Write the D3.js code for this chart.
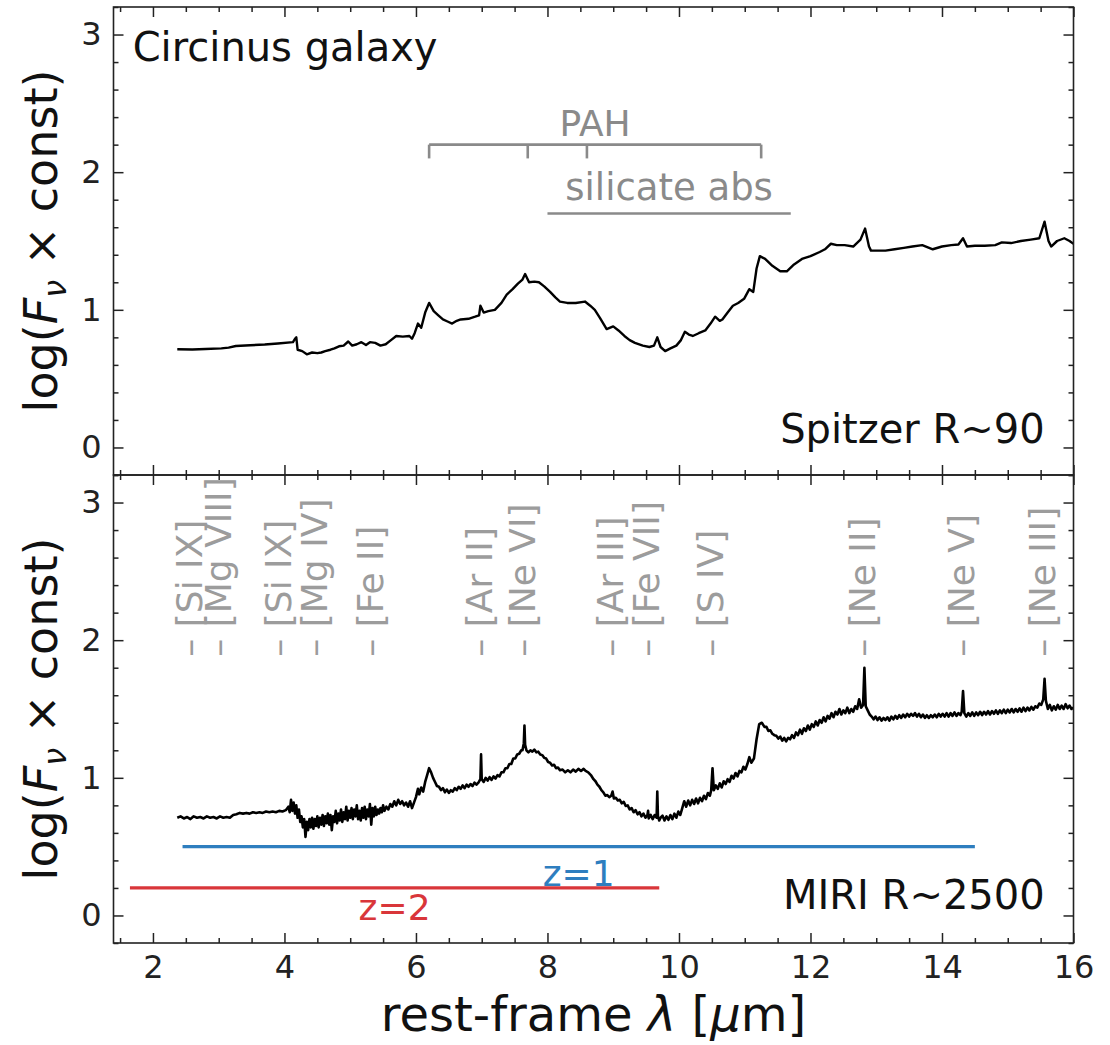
<!DOCTYPE html>
<html>
<head>
<meta charset="utf-8">
<script src="https://cdn.jsdelivr.net/npm/d3@7"></script>
<style>
  html, body { margin: 0; padding: 0; background: #fff; }
  svg { display: block; font-family: "DejaVu Sans", sans-serif; }
</style>
</head>
<body>
<svg id="chart" width="1110" height="1045"></svg>
<script>
// ---------------- data ----------------
// Spitzer low-resolution spectrum [wavelength (µm), log(Fnu x const)]
const spitzer = [
  [2.37,0.714],[2.6,0.712],[2.8,0.715],[3.04,0.72],[3.15,0.725],[3.26,0.737],[3.48,0.743],[3.7,0.748],
  [3.9,0.755],[4.13,0.765],[4.16,0.79],[4.18,0.80],[4.2,0.71],[4.27,0.70],[4.34,0.677],[4.42,0.69],
  [4.5,0.685],[4.56,0.69],[4.62,0.70],[4.7,0.71],[4.76,0.72],[4.83,0.735],[4.9,0.74],[4.97,0.77],
  [5.03,0.74],[5.1,0.75],[5.17,0.765],[5.24,0.745],[5.3,0.765],[5.38,0.76],[5.46,0.74],[5.54,0.75],
  [5.62,0.78],[5.7,0.81],[5.8,0.805],[5.9,0.81],[5.94,0.79],[5.98,0.83],[6.03,0.9],[6.08,0.87],
  [6.14,0.98],[6.2,1.05],[6.27,0.99],[6.34,0.96],[6.41,0.93],[6.48,0.915],[6.55,0.9],[6.62,0.92],
  [6.68,0.93],[6.8,0.935],[6.9,0.95],[6.96,0.96],[6.98,1.03],[7.03,0.98],[7.1,0.99],[7.2,1.0],
  [7.3,1.05],[7.38,1.11],[7.47,1.15],[7.55,1.19],[7.62,1.22],[7.66,1.26],[7.72,1.2],[7.8,1.205],
  [7.87,1.2],[7.95,1.17],[8.04,1.13],[8.12,1.09],[8.19,1.06],[8.3,1.05],[8.43,1.05],[8.57,1.06],
  [8.65,1.03],[8.72,1.0],[8.8,0.94],[8.9,0.86],[9.0,0.88],[9.08,0.85],[9.17,0.81],[9.25,0.78],
  [9.33,0.76],[9.45,0.74],[9.55,0.73],[9.62,0.74],[9.67,0.80],[9.72,0.73],[9.79,0.70],[9.87,0.72],
  [9.96,0.74],[10.03,0.78],[10.09,0.84],[10.15,0.82],[10.21,0.81],[10.3,0.83],[10.4,0.85],[10.48,0.9],
  [10.55,0.95],[10.62,0.92],[10.66,0.93],[10.74,0.98],[10.82,1.03],[10.9,1.05],[10.99,1.08],[11.07,1.15],
  [11.13,1.13],[11.18,1.3],[11.23,1.39],[11.31,1.37],[11.42,1.32],[11.54,1.28],[11.64,1.28],[11.75,1.33],
  [11.87,1.37],[12.0,1.39],[12.14,1.42],[12.22,1.44],[12.31,1.48],[12.4,1.47],[12.52,1.47],[12.65,1.46],
  [12.76,1.51],[12.83,1.59],[12.89,1.46],[12.92,1.43],[13.03,1.43],[13.14,1.43],[13.28,1.44],[13.42,1.45],
  [13.55,1.46],[13.7,1.47],[13.86,1.44],[14.0,1.46],[14.14,1.47],[14.25,1.475],[14.32,1.52],[14.38,1.46],
  [14.5,1.465],[14.65,1.465],[14.81,1.47],[14.91,1.49],[15.05,1.485],[15.2,1.5],[15.35,1.51],[15.48,1.52],
  [15.56,1.64],[15.62,1.5],[15.66,1.46],[15.75,1.5],[15.86,1.52],[15.94,1.50],[16.0,1.48]
];

// MIRI high-resolution spectrum [wavelength (µm), log(Fnu x const)]
const miri = [
  [2.37,0.71],[2.42,0.72],[2.47,0.705],[2.52,0.715],[2.57,0.70],[2.62,0.72],[2.67,0.71],[2.72,0.715],
  [2.77,0.705],[2.82,0.72],[2.87,0.71],[2.92,0.715],[2.97,0.705],[3.02,0.72],[3.07,0.71],[3.12,0.715],
  [3.17,0.71],[3.22,0.73],[3.27,0.735],[3.32,0.745],[3.37,0.74],[3.42,0.745],[3.47,0.74],[3.52,0.75],
  [3.57,0.745],[3.62,0.75],[3.67,0.745],[3.72,0.755],[3.77,0.75],[3.82,0.755],[3.87,0.75],[3.92,0.76],
  [3.97,0.755],[4.02,0.765],[4.06,0.79],[4.08,0.75],[4.1,0.84],[4.12,0.76],[4.14,0.82],[4.16,0.74],
  [4.18,0.80],[4.2,0.71],[4.22,0.77],[4.24,0.68],[4.26,0.72],[4.28,0.64],[4.3,0.70],[4.32,0.57],
  [4.34,0.68],[4.36,0.62],[4.38,0.70],[4.4,0.64],[4.42,0.71],[4.44,0.63],[4.46,0.70],[4.48,0.65],
  [4.5,0.72],[4.52,0.64],[4.54,0.71],[4.56,0.66],[4.58,0.73],[4.6,0.65],[4.62,0.72],[4.64,0.67],
  [4.66,0.74],[4.68,0.66],[4.7,0.73],[4.72,0.62],[4.74,0.72],[4.76,0.68],[4.78,0.76],[4.8,0.67],
  [4.82,0.74],[4.84,0.69],[4.86,0.77],[4.88,0.68],[4.9,0.75],[4.92,0.70],[4.94,0.79],[4.96,0.69],
  [4.98,0.76],[5.0,0.71],[5.02,0.78],[5.04,0.70],[5.06,0.77],[5.08,0.72],[5.1,0.80],[5.12,0.70],
  [5.14,0.76],[5.16,0.69],[5.18,0.78],[5.2,0.71],[5.22,0.79],[5.24,0.70],[5.26,0.77],[5.28,0.72],
  [5.3,0.81],[5.32,0.66],[5.34,0.78],[5.36,0.72],[5.38,0.79],[5.4,0.73],[5.42,0.77],[5.44,0.74],
  [5.46,0.78],[5.48,0.75],[5.5,0.80],[5.52,0.76],[5.55,0.79],[5.58,0.77],[5.61,0.81],[5.64,0.79],
  [5.67,0.83],[5.7,0.80],[5.73,0.84],[5.76,0.81],[5.79,0.83],[5.82,0.80],[5.85,0.82],[5.88,0.79],
  [5.91,0.83],[5.94,0.78],[5.97,0.82],[6.0,0.86],[6.03,0.92],[6.05,0.88],[6.08,0.93],[6.11,0.90],
  [6.14,0.97],[6.17,1.02],[6.2,1.07],[6.23,1.04],[6.26,1.0],[6.29,0.97],[6.32,0.94],[6.35,0.935],
  [6.38,0.91],[6.41,0.925],[6.44,0.895],[6.47,0.915],[6.5,0.89],[6.53,0.91],[6.56,0.9],[6.59,0.925],
  [6.62,0.91],[6.65,0.935],[6.68,0.92],[6.71,0.945],[6.74,0.925],[6.77,0.95],[6.8,0.935],[6.83,0.955],
  [6.86,0.94],[6.89,0.965],[6.92,0.95],[6.95,0.965],[6.98,0.99],[6.99,1.17],[7.0,0.99],[7.03,0.97],
  [7.06,1.0],[7.09,0.98],[7.12,1.005],[7.15,0.985],[7.18,1.01],[7.21,0.995],[7.24,1.02],[7.27,1.01],
  [7.3,1.04],[7.33,1.04],[7.36,1.07],[7.39,1.07],[7.42,1.1],[7.45,1.1],[7.48,1.14],[7.51,1.14],
  [7.54,1.17],[7.57,1.175],[7.6,1.2],[7.62,1.2],[7.64,1.25],[7.65,1.38],[7.66,1.24],[7.68,1.2],
  [7.71,1.185],[7.74,1.2],[7.77,1.19],[7.8,1.205],[7.83,1.185],[7.86,1.19],[7.89,1.17],[7.92,1.165],
  [7.95,1.145],[7.98,1.14],[8.01,1.115],[8.04,1.11],[8.07,1.09],[8.1,1.095],[8.13,1.07],[8.16,1.075],
  [8.19,1.055],[8.23,1.06],[8.27,1.04],[8.31,1.055],[8.35,1.04],[8.39,1.06],[8.43,1.045],[8.47,1.065],
  [8.51,1.05],[8.55,1.065],[8.58,1.05],[8.62,1.04],[8.66,1.02],[8.7,0.99],[8.73,0.975],[8.76,0.95],
  [8.79,0.935],[8.82,0.91],[8.85,0.895],[8.88,0.87],[8.91,0.875],[8.94,0.86],[8.97,0.87],[8.99,0.9],
  [9.01,0.85],[9.04,0.855],[9.07,0.835],[9.1,0.84],[9.13,0.815],[9.16,0.825],[9.19,0.795],[9.22,0.8],
  [9.25,0.77],[9.28,0.78],[9.31,0.75],[9.34,0.765],[9.37,0.735],[9.4,0.75],[9.43,0.72],[9.46,0.74],
  [9.49,0.71],[9.52,0.73],[9.53,0.76],[9.54,0.705],[9.57,0.73],[9.6,0.7],[9.63,0.73],[9.66,0.71],
  [9.67,0.90],[9.68,0.72],[9.7,0.69],[9.72,0.71],[9.75,0.725],[9.78,0.69],[9.81,0.72],[9.84,0.695],
  [9.87,0.73],[9.9,0.70],[9.93,0.74],[9.96,0.71],[9.99,0.755],[10.02,0.73],[10.05,0.78],[10.08,0.83],
  [10.11,0.79],[10.14,0.835],[10.17,0.80],[10.2,0.84],[10.23,0.81],[10.26,0.85],[10.29,0.815],[10.32,0.855],
  [10.35,0.83],[10.38,0.87],[10.41,0.845],[10.44,0.89],[10.47,0.87],[10.49,0.91],[10.51,1.07],[10.53,0.91],
  [10.56,0.945],[10.59,0.92],[10.62,0.96],[10.65,0.93],[10.68,0.975],[10.71,0.955],[10.74,0.99],[10.77,0.97],
  [10.8,1.015],[10.83,0.995],[10.86,1.035],[10.89,1.01],[10.92,1.05],[10.95,1.04],[10.98,1.08],[11.01,1.06],
  [11.04,1.1],[11.07,1.15],[11.1,1.11],[11.14,1.14],[11.18,1.28],[11.22,1.39],[11.26,1.40],[11.3,1.37],
  [11.33,1.37],[11.36,1.34],[11.39,1.345],[11.42,1.32],[11.45,1.31],[11.48,1.305],[11.51,1.285],[11.54,1.3],
  [11.57,1.27],[11.6,1.29],[11.63,1.265],[11.66,1.29],[11.69,1.28],[11.72,1.31],[11.75,1.29],[11.78,1.33],
  [11.81,1.31],[11.84,1.35],[11.87,1.32],[11.9,1.36],[11.93,1.34],[11.96,1.38],[11.99,1.35],[12.02,1.39],
  [12.05,1.37],[12.08,1.41],[12.11,1.38],[12.14,1.42],[12.17,1.40],[12.2,1.44],[12.23,1.41],[12.26,1.45],
  [12.29,1.43],[12.32,1.47],[12.35,1.44],[12.38,1.48],[12.41,1.46],[12.44,1.50],[12.47,1.46],[12.5,1.49],
  [12.53,1.47],[12.56,1.51],[12.59,1.47],[12.62,1.50],[12.65,1.48],[12.68,1.52],[12.71,1.50],[12.74,1.57],
  [12.77,1.51],[12.8,1.53],[12.82,1.80],[12.84,1.52],[12.87,1.49],[12.9,1.46],[12.93,1.445],[12.96,1.425],
  [12.99,1.445],[13.02,1.42],[13.05,1.44],[13.08,1.415],[13.11,1.435],[13.14,1.42],[13.17,1.44],[13.2,1.415],
  [13.23,1.445],[13.26,1.425],[13.29,1.45],[13.32,1.43],[13.35,1.455],[13.38,1.435],[13.41,1.46],[13.44,1.44],
  [13.47,1.465],[13.5,1.445],[13.53,1.465],[13.56,1.45],[13.59,1.47],[13.62,1.445],[13.65,1.465],[13.68,1.44],
  [13.71,1.46],[13.74,1.435],[13.77,1.455],[13.8,1.435],[13.83,1.455],[13.86,1.44],[13.89,1.46],[13.92,1.44],
  [13.95,1.465],[13.98,1.445],[14.01,1.465],[14.04,1.445],[14.07,1.47],[14.1,1.445],[14.13,1.47],[14.16,1.45],
  [14.19,1.475],[14.22,1.45],[14.25,1.47],[14.28,1.455],[14.3,1.48],[14.32,1.63],[14.34,1.47],[14.37,1.445],
  [14.4,1.47],[14.43,1.45],[14.46,1.475],[14.49,1.45],[14.52,1.475],[14.55,1.455],[14.58,1.48],[14.61,1.455],
  [14.64,1.48],[14.67,1.46],[14.7,1.485],[14.73,1.46],[14.76,1.485],[14.79,1.465],[14.82,1.49],[14.85,1.465],
  [14.88,1.49],[14.91,1.47],[14.94,1.495],[14.97,1.47],[15.0,1.495],[15.03,1.475],[15.06,1.5],[15.09,1.475],
  [15.12,1.5],[15.15,1.48],[15.18,1.505],[15.21,1.48],[15.24,1.51],[15.27,1.485],[15.3,1.51],[15.33,1.49],
  [15.36,1.515],[15.39,1.495],[15.42,1.52],[15.45,1.51],[15.48,1.54],[15.51,1.53],[15.54,1.57],[15.56,1.72],
  [15.58,1.56],[15.61,1.5],[15.64,1.53],[15.67,1.49],[15.7,1.52],[15.73,1.495],[15.76,1.53],[15.79,1.5],
  [15.82,1.525],[15.85,1.5],[15.88,1.535],[15.91,1.505],[15.94,1.525],[15.97,1.5],[16.0,1.51]
];

// emission-line identifications
const lineNames = ["[Si IX]","[Mg VIII]","[Si IX]","[Mg IV]","[Fe II]","[Ar II]","[Ne VI]",
                   "[Ar III]","[Fe VII]","[S IV]","[Ne II]","[Ne V]","[Ne III]"];
const lineWaves = [2.58, 3.03, 3.94, 4.49, 5.34, 6.99, 7.65, 8.99, 9.53, 10.51, 12.81, 14.32, 15.56];

// PAH features and silicate absorption range
const pahWaves = [6.2, 7.7, 8.6, 11.25];
const silicateRange = [8.0, 11.7];

// redshift coverage of MIRI (rest frame)
const zLabels = ["z=1", "z=2"];
const zRanges = [[2.45, 14.5], [1.65, 9.7]];
const zLevels = [0.5, 0.2];

// axes
const xDomain = [1.4, 16];
const yDomain = [-0.2, 3.2];
const xMajorTicks = [2, 4, 6, 8, 10, 12, 14, 16];
const yMajorTicks = [0, 1, 2, 3];

// ---------------- drawing ----------------
const svg = d3.select("#chart");
const left = 113.5, right = 1073.5;
const panels = [{top: 7, bottom: 475}, {top: 475, bottom: 943}];

const x = d3.scaleLinear().domain(xDomain).range([left, right]);
const yTop = d3.scaleLinear().domain(yDomain).range([panels[0].bottom, panels[0].top]);
const yBot = d3.scaleLinear().domain(yDomain).range([panels[1].bottom, panels[1].top]);

const xMinor = d3.range(1.5, 16.01, 0.5).filter(v => !xMajorTicks.includes(v));
const yMinor = d3.range(-0.2, 3.21, 0.2).map(v => +v.toFixed(1)).filter(v => !yMajorTicks.includes(v));

const GRAY = "#8a8a8a";
const LABELGRAY = "#9c9c9c";

function drawAxes(y, showXLabels) {
  const g = svg.append("g");
  const y0 = y.range()[0], y1 = y.range()[1];
  const style = sel => {
    sel.select(".domain").remove();
    sel.selectAll("line").attr("stroke", "#222").attr("stroke-width", 1.5);
    sel.selectAll("text").attr("fill", "#222").attr("font-size", 32).attr("font-family", "DejaVu Sans");
  };
  // bottom
  g.append("g").attr("transform", `translate(0,${y0})`)
    .call(d3.axisBottom(x).tickValues(xMajorTicks).tickSize(-10).tickPadding(12)
      .tickFormat(showXLabels ? d3.format("d") : () => "")).call(style);
  g.append("g").attr("transform", `translate(0,${y0})`)
    .call(d3.axisBottom(x).tickValues(xMinor).tickSize(-5).tickFormat(() => "")).call(style);
  // top
  g.append("g").attr("transform", `translate(0,${y1})`)
    .call(d3.axisTop(x).tickValues(xMajorTicks).tickSize(-10).tickFormat(() => "")).call(style);
  g.append("g").attr("transform", `translate(0,${y1})`)
    .call(d3.axisTop(x).tickValues(xMinor).tickSize(-5).tickFormat(() => "")).call(style);
  // left
  g.append("g").attr("transform", `translate(${left},0)`)
    .call(d3.axisLeft(y).tickValues(yMajorTicks).tickSize(-10).tickPadding(12).tickFormat(d3.format("d"))).call(style);
  g.append("g").attr("transform", `translate(${left},0)`)
    .call(d3.axisLeft(y).tickValues(yMinor).tickSize(-5).tickFormat(() => "")).call(style);
  // right
  g.append("g").attr("transform", `translate(${right},0)`)
    .call(d3.axisRight(y).tickValues(yMajorTicks).tickSize(-10).tickFormat(() => "")).call(style);
  g.append("g").attr("transform", `translate(${right},0)`)
    .call(d3.axisRight(y).tickValues(yMinor).tickSize(-5).tickFormat(() => "")).call(style);
  // frame
  g.append("rect").attr("x", left).attr("y", y1).attr("width", right - left).attr("height", y0 - y1)
    .attr("fill", "none").attr("stroke", "#222").attr("stroke-width", 1.6);

  // y label
  const cy = (y0 + y1) / 2;
  const t = svg.append("text")
    .attr("transform", `translate(57,${cy}) rotate(-90)`)
    .attr("text-anchor", "middle").attr("font-size", 46).attr("fill", "#111");
  t.append("tspan").text("log(");
  t.append("tspan").attr("font-style", "italic").text("F");
  t.append("tspan").attr("font-style", "italic").attr("font-size", 32).attr("dy", 9).text("ν");
  t.append("tspan").attr("dy", -9).text(" × const)");
}

function clipFor(id, y) {
  svg.append("clipPath").attr("id", id).append("rect")
    .attr("x", left).attr("y", y.range()[1]).attr("width", right - left).attr("height", y.range()[0] - y.range()[1]);
}
clipFor("clipTop", yTop);
clipFor("clipBot", yBot);

// ---- top panel: Spitzer ----
const lineTop = d3.line().x(d => x(d[0])).y(d => yTop(d[1]));
svg.append("path").datum(spitzer).attr("d", lineTop)
  .attr("fill", "none").attr("stroke", "#000").attr("stroke-width", 2.4).attr("stroke-linejoin", "round")
  .attr("clip-path", "url(#clipTop)");

// PAH bracket
const pahY = 2.2, pahTickY = 2.1;
svg.append("line").attr("x1", x(pahWaves[0])).attr("x2", x(pahWaves[pahWaves.length - 1]))
  .attr("y1", yTop(pahY)).attr("y2", yTop(pahY)).attr("stroke", GRAY).attr("stroke-width", 2.6);
svg.selectAll(".pahtick").data(pahWaves).enter().append("line")
  .attr("x1", d => x(d)).attr("x2", d => x(d)).attr("y1", yTop(pahY)).attr("y2", yTop(pahTickY))
  .attr("stroke", GRAY).attr("stroke-width", 2.6);
svg.append("text").attr("x", x((pahWaves[0] + pahWaves[pahWaves.length - 1]) / 2)).attr("y", yTop(2.26))
  .attr("text-anchor", "middle").attr("font-size", 36).attr("fill", GRAY).text("PAH");

// silicate
svg.append("line").attr("x1", x(silicateRange[0])).attr("x2", x(silicateRange[1]))
  .attr("y1", yTop(1.7)).attr("y2", yTop(1.7)).attr("stroke", GRAY).attr("stroke-width", 2.6);
svg.append("text").attr("x", x((silicateRange[0] + silicateRange[1]) / 2)).attr("y", yTop(1.8))
  .attr("text-anchor", "middle").attr("font-size", 37).attr("fill", GRAY).text("silicate abs");

svg.append("text").attr("x", left + 0.02 * (right - left)).attr("y", yTop(2.81))
  .attr("font-size", 40).attr("fill", "#111").text("Circinus galaxy");
svg.append("text").attr("x", left + 0.97 * (right - left)).attr("y", yTop(0.035))
  .attr("text-anchor", "end").attr("font-size", 40).attr("fill", "#111").text("Spitzer R~90");

drawAxes(yTop, false);

// ---- bottom panel: MIRI ----
const lineBot = d3.line().x(d => x(d[0])).y(d => yBot(d[1]));
svg.append("path").datum(miri).attr("d", lineBot)
  .attr("fill", "none").attr("stroke", "#000").attr("stroke-width", 2.6).attr("stroke-linejoin", "round")
  .attr("clip-path", "url(#clipBot)");

// line IDs
const lineY = 1.88;
svg.selectAll(".lineid").data(lineNames).enter().append("text")
  .attr("transform", (d, i) => `translate(${x(lineWaves[i])},${yBot(lineY)}) rotate(-90)`)
  .attr("dy", "0.3em").attr("font-size", 36).attr("fill", LABELGRAY)
  .text(d => "– " + d);

// redshift coverage
const zColors = ["#2e7ebf", "#d9363a"];
zLabels.forEach((lab, i) => {
  svg.append("line").attr("x1", x(zRanges[i][0])).attr("x2", x(zRanges[i][1]))
    .attr("y1", yBot(zLevels[i])).attr("y2", yBot(zLevels[i]))
    .attr("stroke", zColors[i]).attr("stroke-width", 3.2);
});
svg.append("text").attr("x", x((zRanges[0][0] + zRanges[0][1]) / 2)).attr("y", yBot(0.215))
  .attr("text-anchor", "middle").attr("font-size", 36).attr("fill", zColors[0]).text(zLabels[0]);
svg.append("text").attr("x", x((zRanges[1][0] + zRanges[1][1]) / 2)).attr("y", yBot(-0.035))
  .attr("text-anchor", "middle").attr("font-size", 36).attr("fill", zColors[1]).text(zLabels[1]);

svg.append("text").attr("x", left + 0.97 * (right - left)).attr("y", yBot(0.045))
  .attr("text-anchor", "end").attr("font-size", 40).attr("fill", "#111").text("MIRI R~2500");

drawAxes(yBot, true);

// x label
const xl = svg.append("text").attr("x", (left + right) / 2).attr("y", 1031)
  .attr("text-anchor", "middle").attr("font-size", 48).attr("fill", "#111");
xl.append("tspan").text("rest-frame ");
xl.append("tspan").attr("font-style", "italic").text("λ");
xl.append("tspan").text(" [");
xl.append("tspan").attr("font-style", "italic").text("μ");
xl.append("tspan").text("m]");
</script>
</body>
</html>
